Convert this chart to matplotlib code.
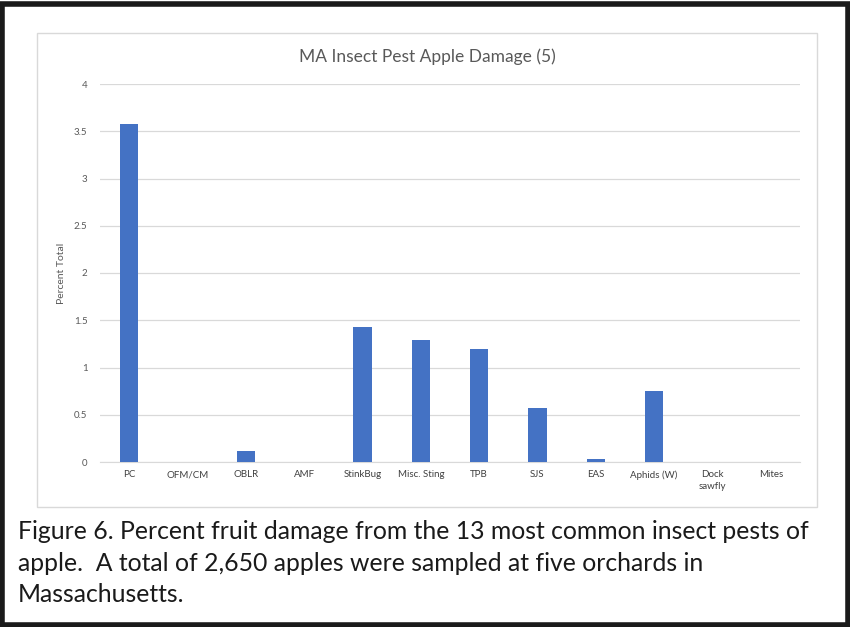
import matplotlib
matplotlib.use("Agg")
import matplotlib.pyplot as plt
from matplotlib.patches import Rectangle

categories = ["PC", "OFM/CM", "OBLR", "AMF", "StinkBug", "Misc. Sting", "TPB",
              "SJS", "EAS", "Aphids (W)", "Dock\nsawfly", "Mites"]
values = [3.58, 0, 0.12, 0, 1.43, 1.29, 1.20, 0.57, 0.03, 0.75, 0, 0]
yticks = [0, 0.5, 1, 1.5, 2, 2.5, 3, 3.5, 4]
ytick_labels = ["0", "0.5", "1", "1.5", "2", "2.5", "3", "3.5", "4"]
title = "MA Insect Pest Apple Damage (5)"
ylabel = "Percent Total"
caption = ("Figure 6. Percent fruit damage from the 13 most common insect pests of\n"
           "apple.  A total of 2,650 apples were sampled at five orchards in\n"
           "Massachusetts.")

W, H = 850, 627
fig = plt.figure(figsize=(W / 100, H / 100), dpi=100)
plt.rcParams['font.family'] = ['Lato', 'DejaVu Sans']

# outer black frame
fig.patches.append(Rectangle((2 / W, 2 / H), 1 - 4 / W, 1 - 6 / H, transform=fig.transFigure,
                             fill=False, edgecolor="#1a1a1a", linewidth=4))
# inner chart box
fig.patches.append(Rectangle((37 / W, 1 - 507 / H), (817 - 37) / W, (507 - 33) / H,
                             transform=fig.transFigure, fill=False, edgecolor="#d9d9d9", linewidth=1))

ax = fig.add_axes([100 / W, 1 - 462 / H, (800 - 100) / W, (462 - 84) / H])
x = list(range(len(categories)))
ax.bar(x, values, width=0.31, color="#4472C4", zorder=3)
ax.set_xlim(-0.5, len(categories) - 0.5)
ax.set_ylim(0, 4)
ax.set_yticks(yticks)
ax.set_yticklabels(ytick_labels, fontsize=7, color="#595959")
ax.set_xticks(x)
ax.set_xticklabels(categories, fontsize=7, color="#404040", linespacing=1.4)
ax.tick_params(axis="both", length=0, pad=9)
ax.tick_params(axis="x", pad=6)
ax.grid(axis="y", color="#d9d9d9", linewidth=0.9, zorder=0)
for s in ["top", "right", "left"]:
    ax.spines[s].set_visible(False)
ax.spines["bottom"].set_color("#d9d9d9")
ax.set_facecolor("none")
ax.set_ylabel(ylabel, fontsize=7.5, color="#595959", labelpad=6)

fig.text(427 / W, 1 - 57 / H, title, ha="center", va="center", fontsize=12.5, color="#595959")
fig.text(18 / W, 1 - 520 / H, caption, ha="left", va="top", fontsize=17.8, color="#1a1a1a",
         linespacing=1.46)

fig.savefig("out.png", dpi=100)
